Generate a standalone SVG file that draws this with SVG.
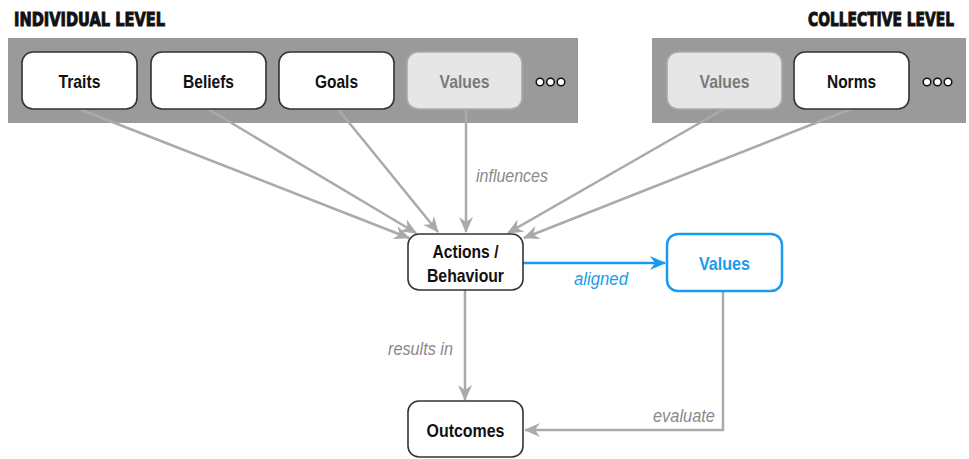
<svg xmlns="http://www.w3.org/2000/svg" width="969" height="459" viewBox="0 0 969 459">
<defs>
<style>
.panel{fill:#9a9a9a}
.node rect{fill:#fff;stroke:#333;stroke-width:1.6}
.node text{font-family:"Liberation Sans Narrow","Arial Narrow","Liberation Sans",Arial,sans-serif;font-stretch:condensed;font-weight:bold;font-size:19px;fill:#111;text-anchor:middle}
.dim rect{fill:#e6e6e6;stroke:#aaa}
.dim text{fill:#7a7a7a}
.blue rect{stroke:#1a9bf0;stroke-width:2.5}
.blue text{fill:#1a9bf0}
.title{font-family:"DejaVu Sans",sans-serif;font-weight:900;font-size:13px;fill:#111;stroke:#111;stroke-width:0.7}
.conn{fill:none;stroke:#aaa;stroke-width:2.5}
.lbl{font-family:"Liberation Sans Narrow","Arial Narrow","Liberation Sans",Arial,sans-serif;font-stretch:condensed;font-style:italic;font-size:19px;fill:#8a8a8a}
.dot{fill:#fff;stroke:#111;stroke-width:1.5}
</style>
<marker id="ag" viewBox="0 0 16 14" refX="15" refY="7" markerWidth="16" markerHeight="14" markerUnits="userSpaceOnUse" orient="auto">
<path d="M0,0 L16,7 L0,14 L5,7 Z" fill="#aaa"/>
</marker>
<marker id="ab" viewBox="0 0 16 14" refX="15" refY="7" markerWidth="16" markerHeight="14" markerUnits="userSpaceOnUse" orient="auto">
<path d="M0,0 L16,7 L0,14 L5,7 Z" fill="#1a9bf0"/>
</marker>
</defs>
<rect width="969" height="459" fill="#fff"/>
<text class="title" transform="translate(14,26) scale(1,1.45)" x="0" y="0" textLength="151" lengthAdjust="spacingAndGlyphs">INDIVIDUAL LEVEL</text>
<text class="title" transform="translate(808,26) scale(1,1.45)" x="0" y="0" textLength="146" lengthAdjust="spacingAndGlyphs">COLLECTIVE LEVEL</text>
<rect class="panel" x="8" y="38" width="570" height="85"/>
<rect class="panel" x="652" y="38" width="314" height="85"/>
<g id="connectors">
<line class="conn" x1="79" y1="109" x2="409" y2="238" marker-end="url(#ag)"/>
<line class="conn" x1="208" y1="109" x2="416" y2="233" marker-end="url(#ag)"/>
<line class="conn" x1="338" y1="109" x2="438" y2="232" marker-end="url(#ag)"/>
<line class="conn" x1="466" y1="109" x2="466" y2="232" marker-end="url(#ag)"/>
<line class="conn" x1="724" y1="109" x2="508" y2="233" marker-end="url(#ag)"/>
<line class="conn" x1="851" y1="109" x2="524" y2="238" marker-end="url(#ag)"/>
<line class="conn" x1="465" y1="290" x2="465" y2="400" marker-end="url(#ag)"/>
<path class="conn" d="M723,292 V430 H525" marker-end="url(#ag)"/>
<line x1="523" y1="263" x2="665" y2="263" stroke="#1a9bf0" stroke-width="2.5" marker-end="url(#ab)"/>
<text class="lbl" x="476" y="182" textLength="72" lengthAdjust="spacingAndGlyphs">influences</text>
<text class="lbl" x="388" y="355" textLength="65" lengthAdjust="spacingAndGlyphs">results in</text>
<text class="lbl" x="653" y="422" textLength="62" lengthAdjust="spacingAndGlyphs">evaluate</text>
<text class="lbl" x="574" y="285" textLength="54" lengthAdjust="spacingAndGlyphs" style="fill:#1a9bf0">aligned</text>
</g>
<g id="traits" class="node"><rect x="22" y="52" width="115" height="57" rx="11"/><text x="79.5" y="88" textLength="42" lengthAdjust="spacingAndGlyphs">Traits</text></g>
<g id="beliefs" class="node"><rect x="151" y="52" width="115" height="57" rx="11"/><text x="208.5" y="88" textLength="51" lengthAdjust="spacingAndGlyphs">Beliefs</text></g>
<g id="goals" class="node"><rect x="279" y="52" width="115" height="57" rx="11"/><text x="336.5" y="88" textLength="43" lengthAdjust="spacingAndGlyphs">Goals</text></g>
<g id="values-ind" class="node dim"><rect x="407" y="52" width="115" height="57" rx="11"/><text x="464.5" y="88" textLength="50" lengthAdjust="spacingAndGlyphs">Values</text></g>
<g id="more-ind"><circle class="dot" cx="540" cy="82" r="3.8"/><circle class="dot" cx="550.5" cy="82" r="3.8"/><circle class="dot" cx="561" cy="82" r="3.8"/></g>
<g id="values-col" class="node dim"><rect x="667" y="52" width="115" height="57" rx="11"/><text x="724.5" y="88" textLength="50" lengthAdjust="spacingAndGlyphs">Values</text></g>
<g id="norms" class="node"><rect x="794" y="52" width="115" height="57" rx="11"/><text x="851.5" y="88" textLength="49" lengthAdjust="spacingAndGlyphs">Norms</text></g>
<g id="more-col"><circle class="dot" cx="927" cy="82" r="3.8"/><circle class="dot" cx="937.5" cy="82" r="3.8"/><circle class="dot" cx="948" cy="82" r="3.8"/></g>
<g id="actions" class="node"><rect x="408" y="234" width="115" height="56" rx="11"/><text x="465.5" y="258" textLength="66" lengthAdjust="spacingAndGlyphs">Actions /</text><text x="465.5" y="282" textLength="77" lengthAdjust="spacingAndGlyphs">Behaviour</text></g>
<g id="values-aligned" class="node blue"><rect x="667" y="234" width="115" height="57" rx="11"/><text x="724.5" y="270" textLength="51" lengthAdjust="spacingAndGlyphs">Values</text></g>
<g id="outcomes" class="node"><rect x="408" y="401" width="115" height="56" rx="11"/><text x="465.5" y="437" textLength="78" lengthAdjust="spacingAndGlyphs">Outcomes</text></g>
</svg>
